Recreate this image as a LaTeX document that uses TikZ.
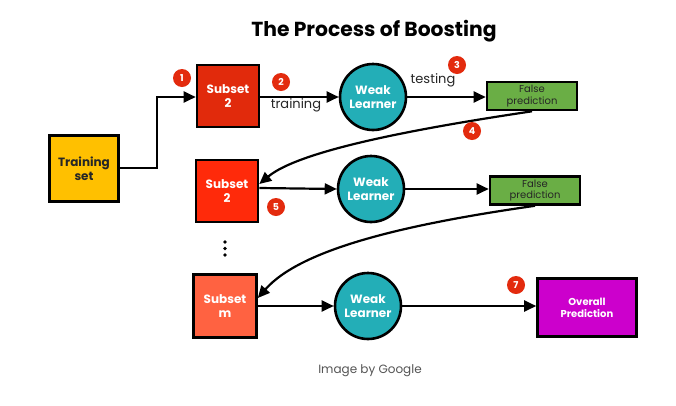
\documentclass[tikz,border=0pt]{standalone}
\usepackage{fontspec}
\setmainfont{Poppins}
\usetikzlibrary{arrows.meta}
\definecolor{tyellow}{HTML}{FFC000}
\definecolor{sred1}{HTML}{E12A0C}
\definecolor{sred2}{HTML}{FF2A0A}
\definecolor{scoral}{HTML}{FF6241}
\definecolor{teal}{HTML}{23AEB7}
\definecolor{fgreen}{HTML}{6AAE45}
\definecolor{omag}{HTML}{CC00CC}
\definecolor{badge}{HTML}{E32B0E}
\definecolor{capgray}{HTML}{555555}
\begin{document}
\begin{tikzpicture}[x=1pt,y=-1pt,
  box/.style={draw=black,line width=2.6pt,inner sep=0pt,align=center,font=\bfseries\fontsize{12}{14}\selectfont},
  learner/.style={circle,draw=black,line width=2.6pt,fill=teal,minimum size=66pt,inner sep=0pt,align=center,text=white,font=\bfseries\fontsize{12}{14}\selectfont},
  fbox/.style={draw=black,line width=2.6pt,fill=fgreen,minimum width=90pt,minimum height=28pt,inner sep=0pt,align=center,text=black!85,font=\fontsize{10}{11.5}\selectfont},
  badgeb/.style={circle,fill=badge,minimum size=18pt,inner sep=0pt,text=white,font=\bfseries\fontsize{9.5}{10}\selectfont},
  conn/.style={line width=2.2pt,-{Triangle[length=12pt,width=11pt]}},
  lbl/.style={font=\fontsize{13}{15}\selectfont,text=black!85},
  dot/.style={circle,fill=black,minimum size=3.6pt,inner sep=0pt}
]
\useasboundingbox (0,0) rectangle (676,405);
\fill[white] (0,0) rectangle (676,405);
\node[font=\bfseries\fontsize{20.3}{23}\selectfont] (title) at (374,31) {The Process of Boosting};

\node[box,fill=tyellow,minimum width=69pt,minimum height=66pt,text=black!85] (train) at (84,168.5) {Training\\set};

\node[box,fill=sred1,minimum width=62pt,minimum height=62pt,text=white] (s1) at (228,96) {Subset\\2};
\node[learner] (w1) at (373,97) {Weak\\Learner};
\node[fbox] (f1) at (532,96) {False\\prediction};

\node[box,fill=sred2,minimum width=62pt,minimum height=62pt,text=white] (s2) at (227,191) {Subset\\2};
\node[learner] (w2) at (371,189) {Weak\\Learner};
\node[fbox] (f2) at (535,190.5) {False\\prediction};

\node[dot] (d1) at (225,242) {};
\node[dot] (d2) at (225,248.5) {};
\node[dot] (d3) at (225,255) {};

\node[box,fill=scoral,minimum width=63pt,minimum height=63pt,text=white] (sm) at (225,306) {Subset\\m};
\node[learner] (w3) at (368,306) {Weak\\Learner};
\node[box,fill=omag,minimum width=99pt,minimum height=58pt,text=white,font=\bfseries\fontsize{10}{12}\selectfont] (ov) at (587,307.5) {Overall\\Prediction};

% connectors
\coordinate (c1) at (157,168);
\coordinate (c2) at (157,97);
\draw[conn] (train.east |- 0,168) -- (c1) -- (c2) -- (s1.west |- 0,97);
\draw[conn] (s1.east |- 0,97) -- (w1.west);
\draw[conn] (w1.east) -- (f1.west |- 0,97);
\draw[conn] (f1.south) .. controls (420,128) and (300,150) .. (s2.east |- 0,184);
\draw[conn] (s2.east |- 0,188) -- (w2.west);
\draw[conn] (w2.east) -- (f2.west |- 0,189);
\draw[conn] (f2.south) .. controls (400,225) and (300,250) .. (sm.east |- 0,298);
\draw[conn] (sm.east |- 0,306) -- (w3.west);
\draw[conn] (w3.east) -- (ov.west |- 0,306);

% labels
\node[lbl] (tr) at (296,105) {training};
\node[lbl] (te) at (433,80) {testing};

% badges
\node[badgeb] (b1) at (182,78) {1};
\node[badgeb] (b2) at (281,82) {2};
\node[badgeb] (b3) at (457,65) {3};
\node[badgeb] (b4) at (472,131) {4};
\node[badgeb] (b5) at (276,207) {5};
\node[badgeb] (b7) at (516,285) {7};

\node[text=capgray,font=\fontsize{12}{14}\selectfont] (cap) at (370,371) {Image by Google};
\end{tikzpicture}
\end{document}
